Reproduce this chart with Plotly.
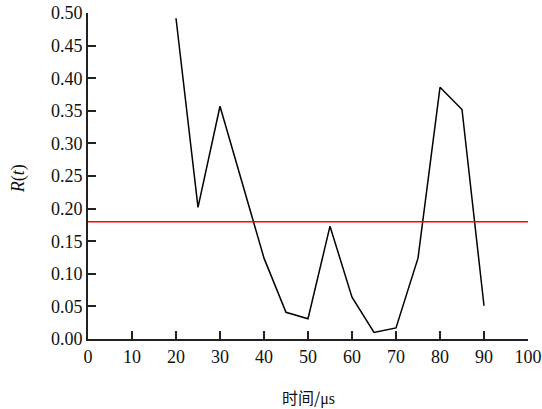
import plotly.graph_objects as go

# Sampling times (μs) and the response R(t)
time_us = [20, 25, 30, 35, 40, 45, 50, 55, 60, 65, 70, 75, 80, 85, 90]
r_values = [0.492, 0.202, 0.357, 0.241, 0.124, 0.041, 0.031, 0.173, 0.064,
            0.010, 0.017, 0.124, 0.386, 0.352, 0.051]

# Threshold level drawn across the full time range
threshold = 0.18
threshold_span = [0, 100]

x_ticks = list(range(0, 101, 10))
y_ticks = [round(0.05 * i, 2) for i in range(11)]
y_tick_text = [f"{v:.2f}" for v in y_ticks]

serif = "Liberation Serif, Times New Roman, serif"

fig = go.Figure()
fig.add_trace(go.Scatter(
    x=time_us, y=r_values, mode="lines",
    line=dict(color="black", width=1.5), showlegend=False,
))
fig.add_trace(go.Scatter(
    x=threshold_span, y=[threshold, threshold], mode="lines",
    line=dict(color="#ff0000", width=1.5), showlegend=False,
))

axis_common = dict(
    showline=True, linecolor="#222222", linewidth=2,
    ticks="inside", ticklen=8, tickwidth=1.5, tickcolor="#222222",
    showgrid=False, zeroline=False, mirror=False, automargin=False,
    tickfont=dict(family=serif, size=18, color="#111111"),
)

fig.update_layout(
    width=542, height=409,
    margin=dict(l=88, r=14, t=13, b=70),
    paper_bgcolor="white", plot_bgcolor="white",
    font=dict(family=serif),
    xaxis=dict(range=[0, 100], tickvals=x_ticks, **axis_common),
    yaxis=dict(range=[0, 0.5], tickvals=y_ticks, ticktext=y_tick_text,
               **axis_common),
    annotations=[
        dict(text="时间/<span style='font-family:Liberation Serif'>μs</span>",
             xref="paper", yref="paper", x=0.5, y=0, yshift=-44,
             xanchor="center", yanchor="top", showarrow=False,
             font=dict(family="Noto Sans CJK SC", size=16, color="#111111")),
        dict(text="<i>R</i>(<i>t</i>)", xref="paper", yref="paper",
             x=0, xshift=-70, y=0.49, textangle=-90,
             xanchor="center", yanchor="middle", showarrow=False,
             font=dict(family=serif, size=18, color="#111111")),
    ],
)

fig.write_html("out.html")
